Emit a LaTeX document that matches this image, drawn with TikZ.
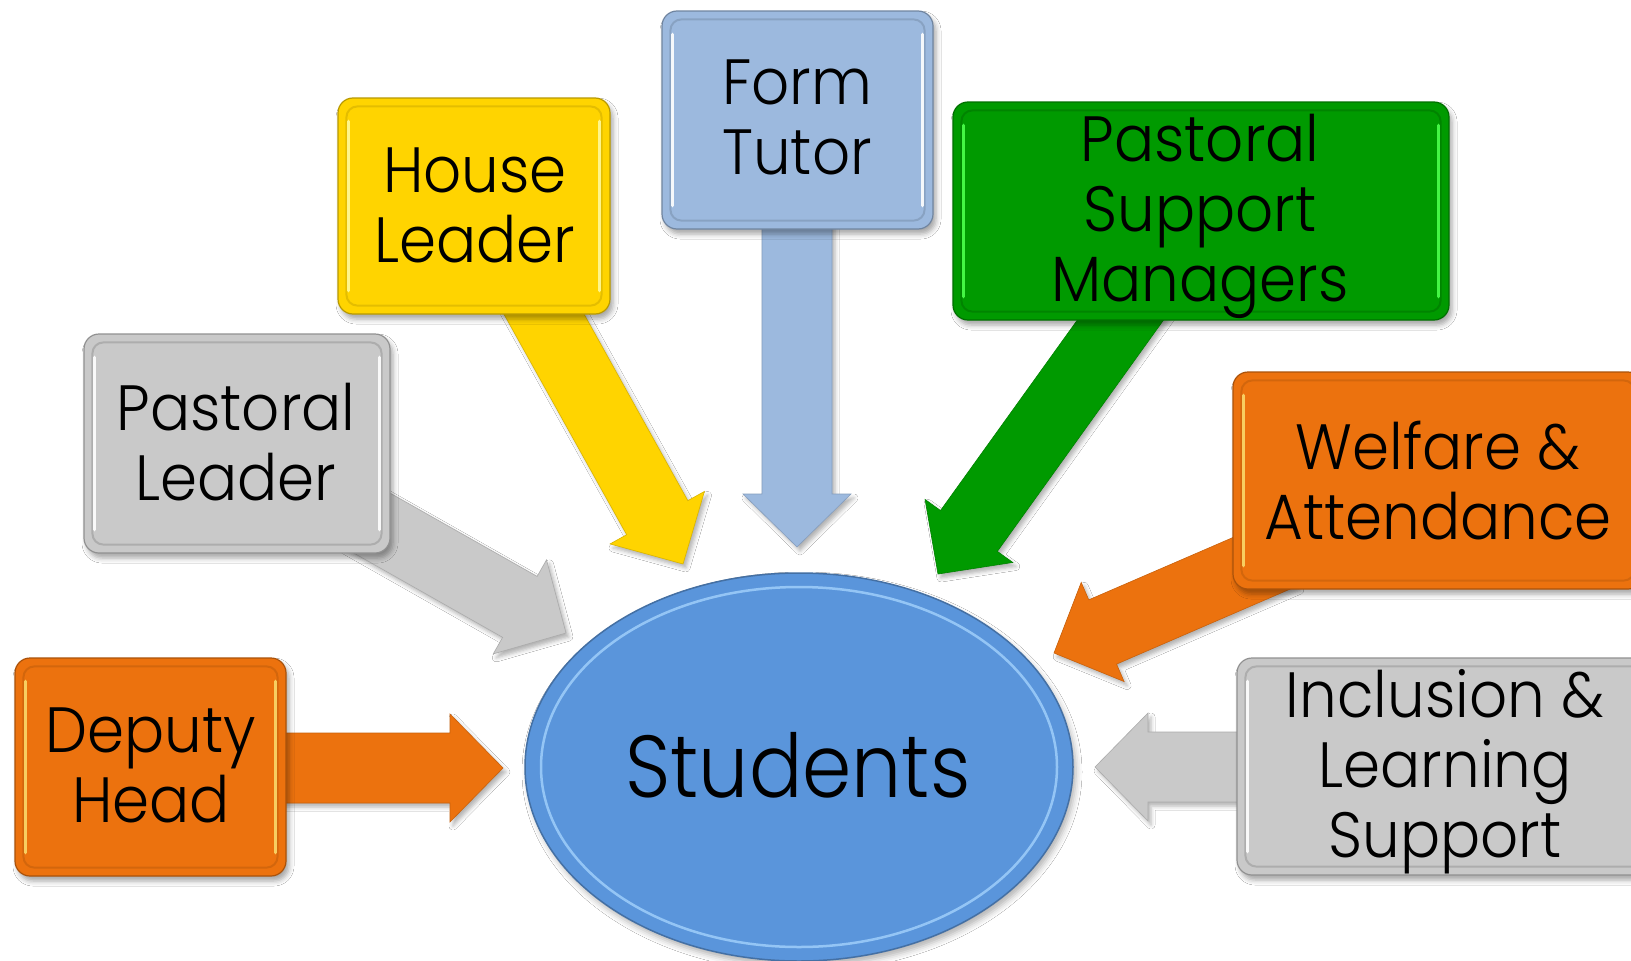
\documentclass[tikz,border=0pt]{standalone}
\usepackage{fontspec}
\setmainfont{Poppins}[UprightFont=* Light, FakeStretch=0.93]
\newfontfamily\stfont{Poppins}[UprightFont=* Light, FakeStretch=0.9]
\usetikzlibrary{calc,shadows.blur,shapes.geometric}
\definecolor{orng}{RGB}{236,114,14}
\definecolor{yelw}{RGB}{255,212,0}
\definecolor{ltblue}{RGB}{156,185,222}
\definecolor{grn}{RGB}{0,154,0}
\definecolor{gry}{RGB}{201,201,201}
\definecolor{stblue}{RGB}{90,149,219}
\definecolor{ringblue}{RGB}{168,214,255}
\tikzset{
  boxbase/.style={rectangle, rounded corners=15pt, fill=#1, draw=#1!72!black, line width=1.2pt, inner sep=0pt,
     blur shadow={shadow xshift=3pt, shadow yshift=-5pt, shadow blur radius=5pt, shadow opacity=35}},
  arrowbase/.style={fill=#1, draw=#1!85!black, line width=0.6pt, line join=miter,
     blur shadow={shadow xshift=3pt, shadow yshift=-4pt, shadow blur radius=4pt, shadow opacity=30}},
  lbl/.style={font=\fontsize{64}{70}\selectfont, align=center, inner sep=0pt, text=black},
}
\newcommand{\blockarr}[3]{%
  \path ($(#3)!53pt!(#2)$) coordinate (hb);
  \path ($(#2)!35pt!90:(#3)$) coordinate (t1)
        ($(#2)!35pt!-90:(#3)$) coordinate (t2)
        ($(hb)!35pt!90:(#3)$) coordinate (s1)
        ($(hb)!35pt!-90:(#3)$) coordinate (s2)
        ($(hb)!54pt!90:(#3)$) coordinate (h1)
        ($(hb)!54pt!-90:(#3)$) coordinate (h2);
  \draw[arrowbase=#1] (t1) -- (s1) -- (h1) -- (#3) -- (h2) -- (s2) -- (t2) -- cycle;
}
\newcommand{\boxdeco}[3]{% node, shine colour, bevel colour
  \draw[#3, line width=2pt, opacity=.35, rounded corners=11pt]
     ([shift={(9pt,-9pt)}]#1.north west) rectangle ([shift={(-9pt,9pt)}]#1.south east);
  \draw[#2, line width=3.5pt, line cap=round, opacity=.9]
     ([shift={(11pt,-24pt)}]#1.north west) -- ([shift={(11pt,24pt)}]#1.south west);
  \draw[#2, line width=3.5pt, line cap=round, opacity=.9]
     ([shift={(-11pt,-24pt)}]#1.north east) -- ([shift={(-11pt,24pt)}]#1.south east);
}
\begin{document}
\begin{tikzpicture}[x=1pt,y=-1pt]
\fill[white] (0,0) rectangle (1631,961);
\useasboundingbox (0,0) rectangle (1631,961);

% central ellipse
\node[ellipse, minimum width=548pt, minimum height=388pt, fill=stblue, draw=stblue!75!black, line width=1.5pt,
      blur shadow={shadow xshift=3pt, shadow yshift=-5pt, shadow blur radius=6pt, shadow opacity=30}] (st) at (799,767) {};
\draw[ringblue, line width=2.5pt, opacity=.75] (st.center) ellipse [x radius=258pt, y radius=180pt];
\node[font=\stfont\fontsize{88}{90}\selectfont, inner sep=0pt] (stt) at (798,765) {Students};

% arrow end points
\coordinate (dhA) at (270,768);   \coordinate (dhB) at (503,768);
\coordinate (plA) at (340,505);   \coordinate (plB) at (566,633);
\coordinate (hlA) at (525,280);   \coordinate (hlB) at (683,564);
\coordinate (ftA) at (797,200);   \coordinate (ftB) at (797,547);
\coordinate (psA) at (1142,290);  \coordinate (psB) at (938,574);
\coordinate (waA) at (1283,554);  \coordinate (waB) at (1054,653);
\coordinate (ilA) at (1260,767);  \coordinate (ilB) at (1095,767);

\blockarr{orng}{dhA}{dhB}
\blockarr{gry}{plA}{plB}
\blockarr{yelw}{hlA}{hlB}
\blockarr{ltblue}{ftA}{ftB}
\blockarr{grn}{psA}{psB}
\blockarr{orng}{waA}{waB}
\blockarr{gry}{ilA}{ilB}

% boxes
\node[boxbase=orng, minimum width=271pt, minimum height=218pt] (dh) at (150.5,767) {};
\boxdeco{dh}{orng!45!yellow!60!white}{orng!70!black}
\node[lbl] (dht) at (151,765) {Deputy\\Head};

\node[boxbase=gry, minimum width=306pt, minimum height=219pt] (pl) at (237,443.5) {};
\boxdeco{pl}{white}{gry!60!black}
\node[lbl] (plt) at (236,442) {Pastoral\\Leader};

\node[boxbase=yelw, minimum width=272pt, minimum height=216pt] (hl) at (474,206) {};
\boxdeco{hl}{yellow!40!white}{yelw!70!black}
\node[lbl] (hlt) at (475,205) {House\\Leader};

\node[boxbase=ltblue, minimum width=271pt, minimum height=218pt] (ft) at (797.5,120) {};
\boxdeco{ft}{white}{ltblue!65!black}
\node[lbl] (ftt) at (797,117) {Form\\Tutor};

\node[boxbase=grn, minimum width=496pt, minimum height=218pt] (ps) at (1201,211) {};
\boxdeco{ps}{green!70!white}{grn!60!black}
\node[lbl] (pst) at (1200,216) {Pastoral\\Support\\Managers};

\node[boxbase=orng, minimum width=410pt, minimum height=217pt] (wa) at (1438,480.5) {};
\boxdeco{wa}{orng!45!yellow!60!white}{orng!70!black}
\node[lbl] (wat) at (1438,481) {Welfare \&\\Attendance};

\node[boxbase=gry, minimum width=416pt, minimum height=217pt] (il) at (1445,766.5) {};
\boxdeco{il}{white}{gry!60!black}
\node[lbl] (ilt) at (1445,772) {Inclusion \&\\Learning\\Support};
\end{tikzpicture}
\end{document}
